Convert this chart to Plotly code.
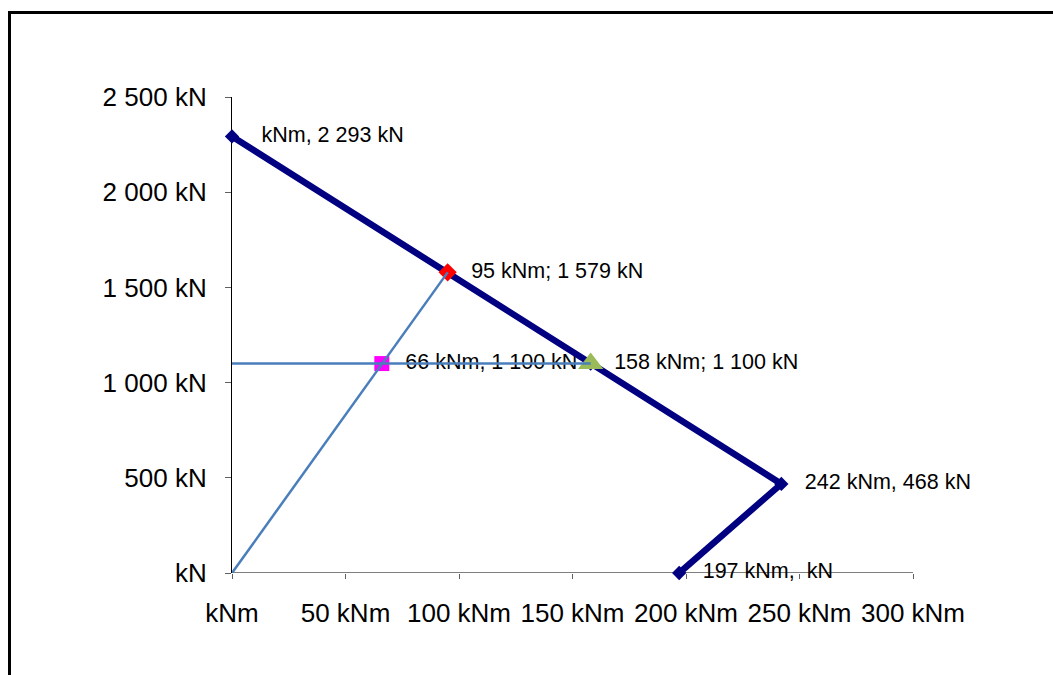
import plotly.graph_objects as go

# Interaction diagram: bending moment M (kNm) vs axial force N (kN)
X_RANGE = [0, 300]
Y_RANGE = [0, 2500]
x_ticks = [0, 50, 100, 150, 200, 250, 300]
y_ticks = [0, 500, 1000, 1500, 2000, 2500]

# Capacity envelope
env_m = [0, 95, 158, 242, 197]
env_n = [2293, 1579, 1100, 468, 0]

# Highlighted points
pt_red = (95, 1579)
pt_green = (158, 1100)
pt_magenta = (66, 1100)

# Load path lines
ray_m = [0, 66, 95]
ray_n = [0, 1100, 1579]
hline_m = [0, 158]
hline_n = [1100, 1100]

# Data labels (point, separator)
lab_m = [0, 95, 66, 158, 242, 197]
lab_n = [2293, 1579, 1100, 1100, 468, 0]
lab_sep = [",", ";", ",", ";", ",", ","]


def fmt(v):
    if v == 0:
        return ""
    return f"{v:,}".replace(",", " ")


labels = [f"{fmt(m)} kNm{s} {fmt(n)} kN" for m, n, s in zip(lab_m, lab_n, lab_sep)]

FONT = "Liberation Sans, Arial, sans-serif"
NAVY = "#000080"
BLUE = "#4A7EBB"

fig = go.Figure()

# labels first so the lines are drawn over them
fig.add_trace(go.Scatter(
    x=lab_m, y=lab_n, mode="markers+text", text=labels,
    textposition="middle right",
    textfont=dict(family=FONT, size=21.5, color="black"),
    marker=dict(size=36, opacity=0),
    cliponaxis=False, hoverinfo="skip", showlegend=False,
))

# horizontal axis baseline
fig.add_trace(go.Scatter(
    x=X_RANGE, y=[Y_RANGE[0], Y_RANGE[0]], mode="lines",
    line=dict(color="black", width=1.2),
    cliponaxis=False, hoverinfo="skip", showlegend=False,
))

fig.add_trace(go.Scatter(
    x=env_m, y=env_n, mode="lines+markers",
    line=dict(color=NAVY, width=6.5),
    marker=dict(symbol="diamond", size=11, color=NAVY),
    cliponaxis=False, showlegend=False,
))

fig.add_trace(go.Scatter(
    x=[pt_red[0]], y=[pt_red[1]], mode="markers",
    marker=dict(symbol="diamond", size=14, color="#FF0000"),
    cliponaxis=False, showlegend=False,
))
fig.add_trace(go.Scatter(
    x=[pt_green[0]], y=[pt_green[1]], mode="markers",
    marker=dict(symbol="triangle-up", size=22, color="#9BBB59"),
    cliponaxis=False, showlegend=False,
))
fig.add_trace(go.Scatter(
    x=[pt_magenta[0]], y=[pt_magenta[1]], mode="markers",
    marker=dict(symbol="square", size=15, color="#FF00FF"),
    cliponaxis=False, showlegend=False,
))

fig.add_trace(go.Scatter(
    x=ray_m, y=ray_n, mode="lines",
    line=dict(color=BLUE, width=2.5),
    cliponaxis=False, showlegend=False,
))
fig.add_trace(go.Scatter(
    x=hline_m, y=hline_n, mode="lines",
    line=dict(color=BLUE, width=2.5),
    cliponaxis=False, showlegend=False,
))

L, R, T, B = 232, 140, 97, 102
W, H = 1053, 675
pw, ph = W - L - R, H - T - B

fig.update_layout(
    width=W, height=H, autosize=False,
    margin=dict(l=L, r=R, t=T, b=B, pad=0),
    paper_bgcolor="white", plot_bgcolor="white",
    font=dict(family=FONT, size=26, color="black"),
    xaxis=dict(
        range=X_RANGE, tickvals=x_ticks,
        ticktext=[f"{fmt(v)} kNm".strip() for v in x_ticks],
        showgrid=False, zeroline=False, showline=False,
        ticks="outside", ticklen=5, tickcolor="#606060", tickwidth=1,
        ticklabelstandoff=12, fixedrange=True,
    ),
    yaxis=dict(
        range=Y_RANGE, tickvals=y_ticks,
        ticktext=[f"{fmt(v)} kN".strip() for v in y_ticks],
        showgrid=False, zeroline=False,
        showline=True, linecolor="black", linewidth=1.2,
        ticks="outside", ticklen=6, tickcolor="#606060", tickwidth=1,
        ticklabelstandoff=13, layer="below traces", fixedrange=True,
    ),
    shapes=[dict(
        type="rect", xref="paper", yref="paper",
        x0=(9.5 - L) / pw, x1=(W + 20 - L) / pw,
        y0=-(B + 20) / ph, y1=(H - B - 12.5) / ph,
        line=dict(color="black", width=3), layer="below",
    )],
)

fig.write_html("out.html")
